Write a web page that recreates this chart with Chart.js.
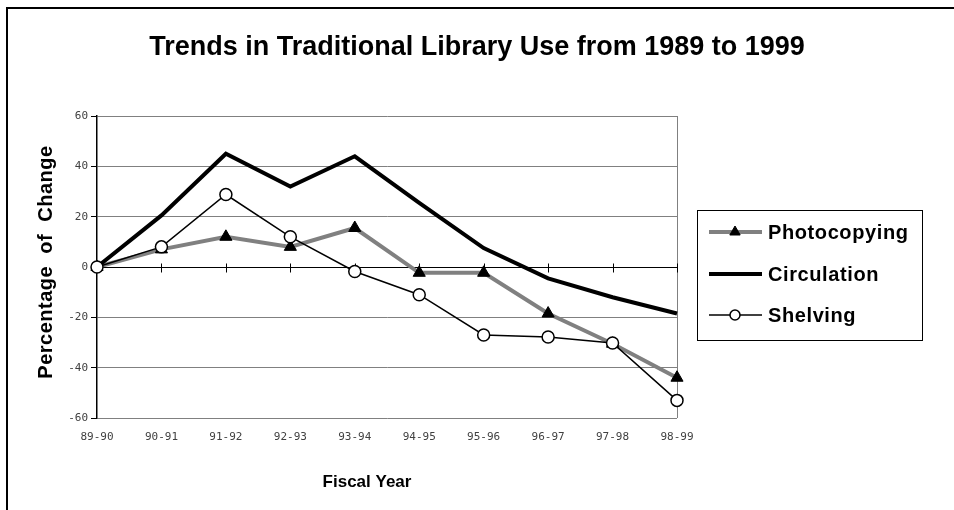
<!DOCTYPE html>
<html>
<head>
<meta charset="utf-8">
<script src="https://cdn.jsdelivr.net/npm/chart.js@4/dist/chart.umd.min.js"></script>
<style>
  html, body { margin: 0; padding: 0; background: #fff; }
</style>
</head>
<body>
<canvas id="myChart" width="954" height="510"></canvas>
<script>
var years = ["89-90", "90-91", "91-92", "92-93", "93-94", "94-95", "95-96", "96-97", "97-98", "98-99"];
var photocopying = [0, 7, 12, 8, 15.5, -2.3, -2.3, -18.5, -30.5, -44];
var circulation = [0, 20.5, 45, 32, 44, 25.5, 7.5, -4.5, -12, -18.5];
var shelving = [0, 8, 28.8, 12, -1.8, -11, -27, -27.8, -30.2, -53];
var yMin = -60, yMax = 60, yStep = 20;

var sans = "'Liberation Sans', Arial, sans-serif";
var mono = "'DejaVu Sans Mono', monospace";

// frame, zero-line ticks, legend box and titles
var extras = {
  id: 'extras',
  beforeDatasetsDraw: function (chart) {
    var ctx = chart.ctx, a = chart.chartArea;
    var x = chart.scales.x, y = chart.scales.y;
    ctx.save();
    ctx.strokeStyle = '#808080';
    ctx.lineWidth = 1;
    ctx.beginPath();
    ctx.moveTo(a.right + 0.5, a.top);
    ctx.lineTo(a.right + 0.5, a.bottom);
    ctx.stroke();
    var y0 = Math.round(y.getPixelForValue(0)) + 0.5;
    ctx.strokeStyle = '#000';
    ctx.beginPath();
    ctx.moveTo(a.left, y0);
    ctx.lineTo(a.right, y0);
    for (var i = 1; i < years.length; i++) {
      var px = Math.round(x.getPixelForValue(i)) + 0.5;
      ctx.moveTo(px, y0 - 4);
      ctx.lineTo(px, y0 + 5);
    }
    ctx.stroke();
    ctx.restore();
  },
  afterDraw: function (chart) {
    var ctx = chart.ctx;
    ctx.save();
    // outer frame (top and left only)
    ctx.strokeStyle = '#000';
    ctx.lineWidth = 2;
    ctx.beginPath();
    ctx.moveTo(7, 510);
    ctx.lineTo(7, 8);
    ctx.lineTo(954, 8);
    ctx.stroke();

    // chart title
    ctx.fillStyle = '#000';
    ctx.textAlign = 'center';
    ctx.textBaseline = 'middle';
    ctx.font = 'bold 27px ' + sans;
    ctx.fillText('Trends in Traditional Library Use from 1989 to 1999', 477, 48);

    // axis titles
    ctx.font = 'bold 17px ' + sans;
    ctx.fillText('Fiscal Year', 367, 482);
    ctx.font = 'bold 20px ' + sans;
    ctx.letterSpacing = '0.5px';
    ctx.translate(46, 262);
    ctx.rotate(-Math.PI / 2);
    ctx.fillText('Percentage  of  Change', 0, 0);
    ctx.restore();

    // legend
    ctx.save();
    ctx.strokeStyle = '#000';
    ctx.lineWidth = 1;
    ctx.strokeRect(697.5, 210.5, 225, 130);
    var rows = [232, 274, 315];
    chart.data.datasets.forEach(function (ds, i) {
      var cy = rows[i];
      ctx.strokeStyle = ds.borderColor;
      ctx.lineWidth = ds.borderWidth;
      ctx.beginPath();
      ctx.moveTo(709, cy);
      ctx.lineTo(762, cy);
      ctx.stroke();
      if (ds.pointRadius > 0) {
        ctx.fillStyle = ds.pointBackgroundColor;
        ctx.strokeStyle = ds.pointBorderColor;
        ctx.lineWidth = ds.pointBorderWidth;
        Chart.helpers.drawPoint(ctx, {
          pointStyle: ds.pointStyle,
          radius: ds.pointRadius - 1,
          borderWidth: ds.pointBorderWidth
        }, 735, cy);
      }
      ctx.fillStyle = '#000';
      ctx.font = 'bold 20px ' + sans;
      ctx.letterSpacing = '0.6px';
      ctx.textAlign = 'left';
      ctx.textBaseline = 'middle';
      ctx.fillText(ds.label, 768, cy + 1);
    });
    ctx.restore();
  }
};

var ctx = document.getElementById('myChart').getContext('2d');
var myChart = new Chart(ctx, {
  type: 'line',
  data: {
    labels: years,
    datasets: [{
      label: 'Photocopying',
      data: photocopying,
      borderColor: '#808080',
      borderWidth: 4,
      pointStyle: 'triangle',
      pointRadius: 7,
      pointBackgroundColor: '#000',
      pointBorderColor: '#000',
      pointBorderWidth: 1,
      order: 2
    }, {
      label: 'Circulation',
      data: circulation,
      borderColor: '#000',
      borderWidth: 4,
      pointRadius: 0,
      order: 1
    }, {
      label: 'Shelving',
      data: shelving,
      borderColor: '#000',
      borderWidth: 1.5,
      pointStyle: 'circle',
      pointRadius: 6,
      pointBackgroundColor: '#fff',
      pointBorderColor: '#000',
      pointBorderWidth: 1.5,
      order: 0
    }]
  },
  options: {
    responsive: false,
    animation: false,
    devicePixelRatio: 1,
    clip: false,
    layout: { padding: { left: 0, right: 277, top: 116, bottom: 0 } },
    elements: { line: { tension: 0 } },
    plugins: {
      legend: { display: false },
      tooltip: { enabled: false },
      title: { display: false }
    },
    scales: {
      x: {
        offset: false,
        grid: { display: false },
        border: { display: false },
        ticks: {
          color: '#404040',
          font: { family: mono, size: 11 },
          maxRotation: 0,
          autoSkip: false,
          padding: 5
        },
        afterFit: function (scale) { scale.height = 92; }
      },
      y: {
        min: yMin,
        max: yMax,
        ticks: {
          stepSize: yStep,
          color: '#404040',
          font: { family: mono, size: 11 },
          padding: 3
        },
        grid: {
          color: function (c) { return c.tick && c.tick.value === 0 ? '#000' : '#808080'; },
          tickColor: '#000',
          tickLength: 6,
          lineWidth: 1
        },
        border: { color: '#000', width: 1.5 },
        afterFit: function (scale) { scale.width = 97; }
      }
    }
  },
  plugins: [extras]
});
</script>
</body>
</html>
